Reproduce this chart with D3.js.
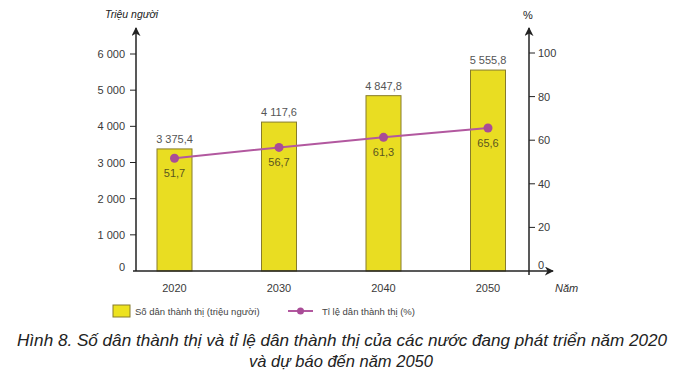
<!DOCTYPE html>
<html><head><meta charset="utf-8">
<script src="https://cdn.jsdelivr.net/npm/d3@7/dist/d3.min.js"></script>
<style>body{margin:0;background:#fff}svg{display:block}text{font-family:"Liberation Sans",Arial,sans-serif}</style>
</head><body>
<svg id="c" width="683" height="381"></svg>
<script>
const years = ["2020","2030","2040","2050"];
const population = [3375.4, 4117.6, 4847.8, 5555.8];
const popLabels = ["3 375,4","4 117,6","4 847,8","5 555,8"];
const urbanRate = [51.7, 56.7, 61.3, 65.6];
const rateLabels = ["51,7","56,7","61,3","65,6"];
const leftTicks = [0,1000,2000,3000,4000,5000,6000];
const leftTickLabels = ["0","1 000","2 000","3 000","4 000","5 000","6 000"];
const rightTicks = [0,20,40,60,80,100];

const svg = d3.select("#c");
const x0 = 136, x1 = 529, yBase = 271;
const x = d3.scalePoint().domain(years).range([174.5, 488]);
const yL = d3.scaleLinear().domain([0,6000]).range([yBase, 54]);
const yR = d3.scaleLinear().domain([0,100]).range([yBase, 53]);
const txt = "#3a3a3a";

const defs = svg.append("defs");
defs.append("marker").attr("id","arr").attr("viewBox","0 0 10 10").attr("refX",9).attr("refY",5)
  .attr("markerWidth",9).attr("markerHeight",9).attr("markerUnits","userSpaceOnUse").attr("orient","auto")
  .append("path").attr("d","M0,0 L10,5 L0,10 L3,5 Z").attr("fill","#222");

// bars
const bw = 35;
svg.selectAll("rect.bar").data(population).enter().append("rect")
  .attr("x",(d,i)=>x(years[i])-bw/2).attr("width",bw)
  .attr("y",d=>yL(d)).attr("height",d=>yBase-yL(d))
  .attr("fill","#e9dd22").attr("stroke","#877c2c").attr("stroke-width",1);

// bar labels
svg.selectAll("text.pl").data(popLabels).enter().append("text")
  .attr("x",(d,i)=>x(years[i])).attr("y",(d,i)=>yL(population[i])-6)
  .attr("text-anchor","middle").attr("font-size",11).attr("fill","#555").text(d=>d);

// left axis
svg.append("line").attr("x1",x0).attr("x2",x0).attr("y1",yBase).attr("y2",28)
  .attr("stroke","#222").attr("stroke-width",1.5).attr("marker-end","url(#arr)");
const gl = svg.append("g");
leftTicks.forEach((t,i)=>{
  if(t>0) gl.append("line").attr("x1",x0-6).attr("x2",x0).attr("y1",yL(t)).attr("y2",yL(t)).attr("stroke","#222");
  gl.append("text").attr("x",x0-11).attr("y",yL(t)+4-(t===0?4:0)).attr("text-anchor","end")
    .attr("font-size",11).attr("fill",txt).text(leftTickLabels[i]);
});
svg.append("text").attr("x",105).attr("y",18).attr("font-size",10.5).attr("font-style","italic").attr("fill","#222").text("Triệu người");

// right axis
svg.append("line").attr("x1",x1).attr("x2",x1).attr("y1",yBase+4).attr("y2",28)
  .attr("stroke","#222").attr("stroke-width",1.5).attr("marker-end","url(#arr)");
rightTicks.forEach(t=>{
  if(t>0) svg.append("line").attr("x1",x1).attr("x2",x1+6).attr("y1",yR(t)).attr("y2",yR(t)).attr("stroke","#222");
  svg.append("text").attr("x",x1+9).attr("y",yR(t)+4-(t===0?6:0)).attr("font-size",11).attr("fill",txt).text(t);
});
svg.append("text").attr("x",523).attr("y",19).attr("font-size",11).attr("fill","#222").text("%");

// x axis
svg.append("line").attr("x1",x0-3).attr("x2",553).attr("y1",yBase).attr("y2",yBase)
  .attr("stroke","#222").attr("stroke-width",1.5).attr("marker-end","url(#arr)");
years.forEach(yv=>{
  svg.append("text").attr("x",x(yv)).attr("y",292).attr("text-anchor","middle").attr("font-size",11).attr("fill",txt).text(yv);
});
svg.append("text").attr("x",555).attr("y",292).attr("font-size",11).attr("font-style","italic").attr("fill","#333").text("Năm");

// line
const lc = "#b2589f";
const line = d3.line().x((d,i)=>x(years[i])).y(d=>yR(d));
svg.append("path").datum(urbanRate).attr("d",line).attr("fill","none").attr("stroke",lc).attr("stroke-width",2);
svg.selectAll("circle.pt").data(urbanRate).enter().append("circle")
  .attr("cx",(d,i)=>x(years[i])).attr("cy",d=>yR(d)).attr("r",4.5).attr("fill","#a94c97");
svg.selectAll("text.rl").data(rateLabels).enter().append("text")
  .attr("x",(d,i)=>x(years[i])).attr("y",(d,i)=>yR(urbanRate[i])+19)
  .attr("text-anchor","middle").attr("font-size",11).attr("fill","#5a5520").text(d=>d);

// legend
svg.append("rect").attr("x",113).attr("y",305).attr("width",17).attr("height",12)
  .attr("fill","#ede21f").attr("stroke","#877c2c");
svg.append("text").attr("x",135).attr("y",315).attr("font-size",9.5).attr("fill","#444").text("Số dân thành thị (triệu người)");
svg.append("line").attr("x1",288).attr("x2",313).attr("y1",311).attr("y2",311).attr("stroke",lc).attr("stroke-width",2);
svg.append("circle").attr("cx",300.5).attr("cy",311).attr("r",3.5).attr("fill","#a94c97");
svg.append("text").attr("x",322).attr("y",315).attr("font-size",9.5).attr("fill","#444").text("Tỉ lệ dân thành thị (%)");

// caption
svg.append("text").attr("x",342).attr("y",346).attr("text-anchor","middle").attr("font-size",16.5).attr("font-style","italic").attr("fill","#222")
  .attr("textLength",650).attr("lengthAdjust","spacingAndGlyphs")
  .text("Hình 8. Số dân thành thị và tỉ lệ dân thành thị của các nước đang phát triển năm 2020");
svg.append("text").attr("x",341).attr("y",367).attr("text-anchor","middle").attr("font-size",16.5).attr("font-style","italic").attr("fill","#222")
  .text("và dự báo đến năm 2050");
</script>
</body></html>
